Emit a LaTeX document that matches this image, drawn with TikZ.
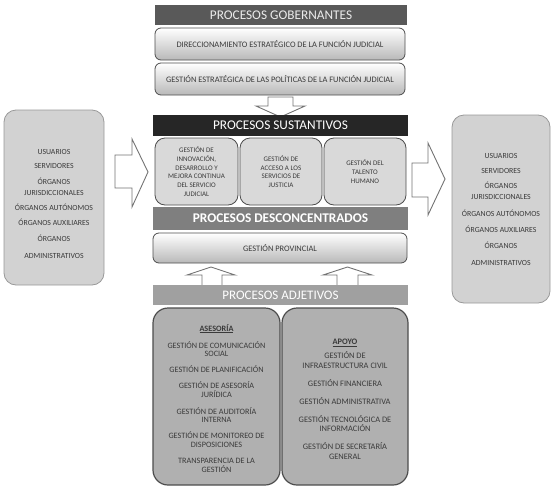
\documentclass[tikz,border=0pt]{standalone}
\usepackage{fontspec}
\setmainfont{Carlito}
\definecolor{gobc}{HTML}{595959}
\definecolor{sustc}{HTML}{262626}
\definecolor{descc}{HTML}{7F7F7F}
\definecolor{adjc}{HTML}{A0A0A0}
\definecolor{txtc}{HTML}{3A3A3A}
\definecolor{edgec}{HTML}{4D4D4D}
\definecolor{sidec}{HTML}{D2D2D2}
\definecolor{boxc}{HTML}{D9D9D9}
\definecolor{botc}{HTML}{B0B0B0}
\begin{document}
\begin{tikzpicture}[x=1pt,y=-1pt,
  bar/.style={inner sep=0pt, text=white, font=\fontsize{13.3}{15}\selectfont},
  gbox/.style={rounded corners=6pt, draw=edgec, line width=0.8pt, top color=white, bottom color=boxc!85!black, inner sep=0pt, text=txtc, font=\fontsize{8.4}{9}\selectfont},
  sbox/.style={rounded corners=10pt, draw=edgec, line width=0.8pt, fill=boxc, inner sep=0pt, text=txtc, align=center, font=\fontsize{7}{8.7}\selectfont},
  sidebox/.style={rounded corners=12pt, draw=gray!80, line width=0.8pt, fill=sidec, inner sep=0pt},
  sidetxt/.style={align=center, text=txtc, font=\fontsize{7.8}{10.5}\selectfont},
  botbox/.style={rounded corners=15pt, draw=edgec, line width=1.2pt, fill=botc, inner sep=0pt},
  bigarrow/.style={draw=gray!90!black, line width=0.9pt, fill=white, line join=miter}
]
\useasboundingbox (0,0) rectangle (553,490);

% Procesos gobernantes
\node[bar, fill=gobc, minimum width=252pt, minimum height=20pt, text=white!92!black] (gob) at (281,15) {PROCESOS GOBERNANTES};
\node[gbox, minimum width=250pt, minimum height=32pt] (dir) at (280,44) {DIRECCIONAMIENTO ESTRATÉGICO DE LA FUNCIÓN JUDICIAL};
\node[gbox, minimum width=250pt, minimum height=32pt] (gest) at (280,79) {GESTIÓN ESTRATÉGICA DE LAS POLÍTICAS DE LA FUNCIÓN JUDICIAL};

% down arrow
\draw[bigarrow] (268,97) -- (293,97) -- (293,106) -- (305,106) -- (280.5,117) -- (256,106) -- (268,106) -- cycle;

% Procesos sustantivos
\node[bar, fill=sustc, minimum width=255pt, minimum height=21pt] (sust) at (280.5,125.5) {PROCESOS SUSTANTIVOS};
\node[sbox, minimum width=83pt, minimum height=67pt] (s1) at (196.5,171.5) {GESTIÓN DE\\INNOVACIÓN,\\DESARROLLO Y\\MEJORA CONTINUA\\DEL SERVICIO\\JUDICIAL};
\node[sbox, minimum width=82pt, minimum height=67pt] (s2) at (281,171.5) {GESTIÓN DE\\ACCESO A LOS\\SERVICIOS DE\\JUSTICIA};
\node[sbox, minimum width=82pt, minimum height=67pt] (s3) at (365,171.5) {GESTIÓN DEL\\TALENTO\\HUMANO};

% Procesos desconcentrados
\node[bar, fill=descc, minimum width=255pt, minimum height=23pt, font=\fontsize{13.3}{15}\selectfont\bfseries] (desc) at (280.5,218.5) {PROCESOS DESCONCENTRADOS};
\node[gbox, minimum width=254pt, minimum height=30pt] (prov) at (280,248) {GESTIÓN PROVINCIAL};

% up arrows
\draw[bigarrow] (202,285) -- (202,275) -- (187,275) -- (211,267) -- (235,275) -- (222,275) -- (222,285);
\draw[bigarrow] (337,285) -- (337,275) -- (323,275) -- (347.5,267) -- (372,275) -- (358,275) -- (358,285);

% Procesos adjetivos
\node[bar, fill=adjc, minimum width=255pt, minimum height=20pt, font=\fontsize{13}{14}\selectfont] (adj) at (280.5,295) {PROCESOS ADJETIVOS};

\node[botbox, minimum width=127pt, minimum height=177pt] (ases) at (216.5,396.5) {};
\node[align=center, text=txtc, font=\fontsize{8.2}{8.8}\selectfont] (asestxt) at (216.5,398.5) {\textbf{\underline{ASESORÍA}}\\[7pt]
GESTIÓN DE COMUNICACIÓN\\SOCIAL\\[7pt]
GESTIÓN DE PLANIFICACIÓN\\[7pt]
GESTIÓN DE ASESORÍA\\JURÍDICA\\[8pt]
GESTIÓN DE AUDITORÍA\\INTERNA\\[7pt]
GESTIÓN DE MONITOREO DE\\DISPOSICIONES\\[7.5pt]
TRANSPARENCIA DE LA\\GESTIÓN};

\node[botbox, minimum width=126pt, minimum height=177pt] (apoyo) at (345,396.5) {};
\node[align=center, text=txtc, font=\fontsize{8.4}{9.5}\selectfont] (apoyotxt) at (345,399.5) {\textbf{\underline{APOYO}}\\[4.5pt]
GESTIÓN DE\\INFRAESTRUCTURA CIVIL\\[8.5pt]
GESTIÓN FINANCIERA\\[8.5pt]
GESTIÓN ADMINISTRATIVA\\[8.5pt]
GESTIÓN TECNOLÓGICA DE\\INFORMACIÓN\\[8.5pt]
GESTIÓN DE SECRETARÍA\\GENERAL};

% left side
\node[sidebox, minimum width=100pt, minimum height=175pt] (left) at (54,197.5) {};
\node[sidetxt] (lefttxt) at (54,204) {USUARIOS\\[3.5pt]SERVIDORES\\[5.5pt]ÓRGANOS\\JURISDICCIONALES\\[4.5pt]ÓRGANOS AUTÓNOMOS\\[4.5pt]ÓRGANOS AUXILIARES\\[5.5pt]ÓRGANOS\\[6.5pt]ADMINISTRATIVOS};
\draw[bigarrow] (115,155) -- (132,155) -- (132,139) -- (148,172) -- (132,207) -- (132,188) -- (115,188) -- cycle;

% right side
\node[sidebox, minimum width=98pt, minimum height=188pt] (right) at (501,209) {};
\node[sidetxt] (righttxt) at (501,209.5) {USUARIOS\\[4.5pt]SERVIDORES\\[4.5pt]ÓRGANOS\\JURISDICCIONALES\\[6.5pt]ÓRGANOS AUTÓNOMOS\\[5.5pt]ÓRGANOS AUXILIARES\\[5.5pt]ÓRGANOS\\[6.5pt]ADMINISTRATIVOS};
\draw[bigarrow] (412,163) -- (428,163) -- (428,143) -- (445,179) -- (428,215) -- (428,197) -- (412,197) -- cycle;
\end{tikzpicture}
\end{document}
